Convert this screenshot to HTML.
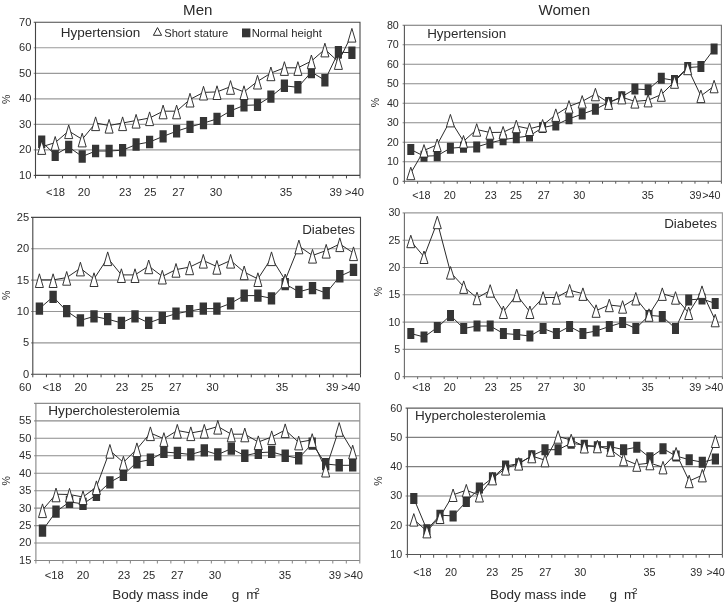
<!DOCTYPE html>
<html><head><meta charset="utf-8"><title>Figure</title>
<style>html,body{margin:0;padding:0;background:#fff}body{width:725px;height:602px;overflow:hidden;font-family:"Liberation Sans",sans-serif}svg{display:block;filter:grayscale(1)}</style>
</head><body>
<svg width="725" height="602" viewBox="0 0 725 602" font-family="'Liberation Sans', sans-serif" fill="#2b2b2b">
<rect width="725" height="602" fill="#fff"/>
<g id="p1">
<path d="M33.70 149.88H360.00M33.70 124.37H360.00M33.70 98.85H360.00M33.70 73.33H360.00M33.70 47.82H360.00" stroke="#9a9a9a" stroke-width="1.1" fill="none"/>
<path d="M33.70 22.30H360.00V175.40" fill="none" stroke="#484848" stroke-width="1.1"/>
<path d="M35.50 175.40v3.0M49.02 175.40v3.0M62.54 175.40v3.0M76.06 175.40v3.0M89.58 175.40v3.0M103.10 175.40v3.0M116.62 175.40v3.0M130.15 175.40v3.0M143.67 175.40v3.0M157.19 175.40v3.0M170.71 175.40v3.0M184.23 175.40v3.0M197.75 175.40v3.0M211.27 175.40v3.0M224.79 175.40v3.0M238.31 175.40v3.0M251.83 175.40v3.0M265.35 175.40v3.0M278.88 175.40v3.0M292.40 175.40v3.0M305.92 175.40v3.0M319.44 175.40v3.0M332.96 175.40v3.0M346.48 175.40v3.0M360.00 175.40v3.0M35.50 175.40h-1.8" stroke="#444" stroke-width="1" fill="none"/>
<path d="M35.50 22.30V175.40H360.00" fill="none" stroke="#444" stroke-width="1.1"/>
<text x="31.4" y="178.85" font-size="11.1" text-anchor="end">10</text>
<text x="31.4" y="153.33" font-size="11.1" text-anchor="end">20</text>
<text x="31.4" y="127.82" font-size="11.1" text-anchor="end">30</text>
<text x="31.4" y="102.30" font-size="11.1" text-anchor="end">40</text>
<text x="31.4" y="76.78" font-size="11.1" text-anchor="end">50</text>
<text x="31.4" y="51.27" font-size="11.1" text-anchor="end">60</text>
<text x="31.4" y="25.75" font-size="11.1" text-anchor="end">70</text>
<text x="55.6" y="195.5" font-size="11.2" text-anchor="middle">&lt;18</text>
<text x="84.0" y="195.5" font-size="11.2" text-anchor="middle">20</text>
<text x="125.2" y="195.5" font-size="11.2" text-anchor="middle">23</text>
<text x="150.2" y="195.5" font-size="11.2" text-anchor="middle">25</text>
<text x="178.5" y="195.5" font-size="11.2" text-anchor="middle">27</text>
<text x="216.1" y="195.5" font-size="11.2" text-anchor="middle">30</text>
<text x="285.9" y="195.5" font-size="11.2" text-anchor="middle">35</text>
<text x="335.7" y="195.5" font-size="11.2" text-anchor="middle">39</text>
<text x="354.5" y="195.5" font-size="11.2" text-anchor="middle">&gt;40</text>
<text transform="translate(6.6 99.4) rotate(-90)" font-size="10.6" text-anchor="middle" y="3.6">%</text>
<polyline points="41.7,141.7 55.2,154.8 68.7,147.0 82.2,156.5 95.6,151.0 109.1,151.0 122.6,150.2 136.1,144.5 149.6,142.0 163.1,136.4 176.6,131.2 190.0,126.9 203.5,123.1 217.0,118.9 230.5,110.9 244.0,105.4 257.5,104.9 270.9,96.6 284.4,85.8 297.9,87.3 311.4,72.0 324.9,80.3 338.4,52.2 351.9,52.7" fill="none" stroke="#2a2a2a" stroke-width="1"/>
<polyline points="41.7,146.8 55.2,142.6 68.7,131.0 82.2,139.3 95.6,123.0 109.1,125.5 122.6,123.0 136.1,120.5 149.6,118.0 163.1,111.2 176.6,111.2 190.0,99.4 203.5,92.4 217.0,91.9 230.5,86.7 244.0,91.9 257.5,81.4 270.9,73.1 284.4,67.8 297.9,67.8 311.4,61.1 324.9,49.3 338.4,61.8 351.9,34.5" fill="none" stroke="#2a2a2a" stroke-width="1"/>
<path d="M38.1 135.5h7.2v12.4h-7.2zM51.6 148.6h7.2v12.4h-7.2zM65.1 140.8h7.2v12.4h-7.2zM78.6 150.3h7.2v12.4h-7.2zM92.0 144.8h7.2v12.4h-7.2zM105.5 144.8h7.2v12.4h-7.2zM119.0 144.0h7.2v12.4h-7.2zM132.5 138.3h7.2v12.4h-7.2zM146.0 135.8h7.2v12.4h-7.2zM159.5 130.2h7.2v12.4h-7.2zM173.0 125.0h7.2v12.4h-7.2zM186.4 120.7h7.2v12.4h-7.2zM199.9 116.9h7.2v12.4h-7.2zM213.4 112.7h7.2v12.4h-7.2zM226.9 104.7h7.2v12.4h-7.2zM240.4 99.2h7.2v12.4h-7.2zM253.9 98.7h7.2v12.4h-7.2zM267.3 90.4h7.2v12.4h-7.2zM280.8 79.6h7.2v12.4h-7.2zM294.3 81.1h7.2v12.4h-7.2zM307.8 65.8h7.2v12.4h-7.2zM321.3 74.1h7.2v12.4h-7.2zM334.8 46.0h7.2v12.4h-7.2zM348.3 46.5h7.2v12.4h-7.2z" fill="#353535"/>
<path d="M41.7 140.7L45.7 154.4H37.7zM55.2 136.5L59.2 150.2H51.2zM68.7 124.9L72.7 138.6H64.7zM82.2 133.2L86.2 146.9H78.2zM95.6 116.9L99.6 130.6H91.6zM109.1 119.4L113.1 133.1H105.1zM122.6 116.9L126.6 130.6H118.6zM136.1 114.4L140.1 128.1H132.1zM149.6 111.9L153.6 125.6H145.6zM163.1 105.1L167.1 118.8H159.1zM176.6 105.1L180.6 118.8H172.6zM190.0 93.3L194.0 107.0H186.0zM203.5 86.3L207.5 100.0H199.5zM217.0 85.8L221.0 99.5H213.0zM230.5 80.6L234.5 94.3H226.5zM244.0 85.8L248.0 99.5H240.0zM257.5 75.3L261.5 89.0H253.5zM270.9 67.0L274.9 80.7H266.9zM284.4 61.7L288.4 75.4H280.4zM297.9 61.7L301.9 75.4H293.9zM311.4 55.0L315.4 68.7H307.4zM324.9 43.2L328.9 56.9H320.9zM338.4 55.7L342.4 69.4H334.4zM351.9 28.4L355.9 42.1H347.9z" fill="#fff" stroke="#2a2a2a" stroke-width="0.95" stroke-linejoin="miter"/>
</g>
<g id="p2">
<path d="M31.00 342.92H360.50M31.00 311.54H360.50M31.00 280.16H360.50M31.00 248.78H360.50" stroke="#969696" stroke-width="1.1" fill="none"/>
<path d="M31.00 217.40H360.50V374.30" fill="none" stroke="#484848" stroke-width="1.1"/>
<path d="M32.80 374.30v3.0M46.45 374.30v3.0M60.11 374.30v3.0M73.76 374.30v3.0M87.42 374.30v3.0M101.07 374.30v3.0M114.72 374.30v3.0M128.38 374.30v3.0M142.03 374.30v3.0M155.69 374.30v3.0M169.34 374.30v3.0M183.00 374.30v3.0M196.65 374.30v3.0M210.30 374.30v3.0M223.96 374.30v3.0M237.61 374.30v3.0M251.27 374.30v3.0M264.92 374.30v3.0M278.57 374.30v3.0M292.23 374.30v3.0M305.88 374.30v3.0M319.54 374.30v3.0M333.19 374.30v3.0M346.85 374.30v3.0M360.50 374.30v3.0M32.80 374.30h-1.8" stroke="#444" stroke-width="1" fill="none"/>
<path d="M32.80 217.40V374.30H360.50" fill="none" stroke="#444" stroke-width="1.1"/>
<text x="29.2" y="377.75" font-size="11.1" text-anchor="end">0</text>
<text x="29.2" y="346.37" font-size="11.1" text-anchor="end">5</text>
<text x="29.2" y="314.99" font-size="11.1" text-anchor="end">10</text>
<text x="29.2" y="283.61" font-size="11.1" text-anchor="end">15</text>
<text x="29.2" y="252.23" font-size="11.1" text-anchor="end">20</text>
<text x="29.2" y="220.85" font-size="11.1" text-anchor="end">25</text>
<text x="52.0" y="391.2" font-size="11.2" text-anchor="middle">&lt;18</text>
<text x="80.8" y="391.2" font-size="11.2" text-anchor="middle">20</text>
<text x="122.1" y="391.2" font-size="11.2" text-anchor="middle">23</text>
<text x="147.3" y="391.2" font-size="11.2" text-anchor="middle">25</text>
<text x="175.3" y="391.2" font-size="11.2" text-anchor="middle">27</text>
<text x="212.6" y="391.2" font-size="11.2" text-anchor="middle">30</text>
<text x="282.1" y="391.2" font-size="11.2" text-anchor="middle">35</text>
<text x="332.2" y="391.2" font-size="11.2" text-anchor="middle">39</text>
<text x="350.8" y="391.2" font-size="11.2" text-anchor="middle">&gt;40</text>
<text transform="translate(6.6 295.2) rotate(-90)" font-size="10.6" text-anchor="middle" y="3.6">%</text>
<polyline points="39.4,308.6 53.1,296.8 66.7,311.1 80.4,320.4 94.0,316.4 107.7,319.2 121.4,322.9 135.0,316.4 148.7,322.9 162.3,317.9 176.0,313.7 189.6,311.1 203.3,308.6 216.9,308.6 230.6,303.4 244.2,295.6 257.9,295.6 271.5,298.3 285.2,284.0 298.9,291.8 312.5,288.1 326.2,293.1 339.8,276.3 353.5,270.0" fill="none" stroke="#2a2a2a" stroke-width="1"/>
<polyline points="39.4,279.9 53.1,279.9 66.7,277.6 80.4,268.3 94.0,278.9 107.7,258.0 121.4,274.9 135.0,274.9 148.7,266.1 162.3,276.4 176.0,269.6 189.6,267.1 203.3,260.5 216.9,266.6 230.6,260.5 244.2,272.1 257.9,278.9 271.5,258.0 285.2,280.1 298.9,246.2 312.5,255.5 326.2,250.5 339.8,244.0 353.5,253.0" fill="none" stroke="#2a2a2a" stroke-width="1"/>
<path d="M35.7 302.5h7.4v12.3h-7.4zM49.4 290.7h7.4v12.3h-7.4zM63.0 305.0h7.4v12.3h-7.4zM76.7 314.3h7.4v12.3h-7.4zM90.3 310.3h7.4v12.3h-7.4zM104.0 313.0h7.4v12.3h-7.4zM117.7 316.8h7.4v12.3h-7.4zM131.3 310.3h7.4v12.3h-7.4zM145.0 316.8h7.4v12.3h-7.4zM158.6 311.8h7.4v12.3h-7.4zM172.3 307.5h7.4v12.3h-7.4zM185.9 305.0h7.4v12.3h-7.4zM199.6 302.5h7.4v12.3h-7.4zM213.2 302.5h7.4v12.3h-7.4zM226.9 297.2h7.4v12.3h-7.4zM240.5 289.4h7.4v12.3h-7.4zM254.2 289.4h7.4v12.3h-7.4zM267.8 292.2h7.4v12.3h-7.4zM281.5 277.9h7.4v12.3h-7.4zM295.2 285.7h7.4v12.3h-7.4zM308.8 281.9h7.4v12.3h-7.4zM322.5 286.9h7.4v12.3h-7.4zM336.1 270.1h7.4v12.3h-7.4zM349.8 263.8h7.4v12.3h-7.4z" fill="#353535"/>
<path d="M39.4 273.8L43.4 287.5H35.4zM53.1 273.8L57.1 287.5H49.1zM66.7 271.5L70.7 285.2H62.7zM80.4 262.2L84.4 275.9H76.4zM94.0 272.8L98.0 286.5H90.0zM107.7 251.9L111.7 265.6H103.7zM121.4 268.8L125.4 282.5H117.4zM135.0 268.8L139.0 282.5H131.0zM148.7 260.0L152.7 273.7H144.7zM162.3 270.3L166.3 284.0H158.3zM176.0 263.5L180.0 277.2H172.0zM189.6 261.0L193.6 274.7H185.6zM203.3 254.4L207.3 268.1H199.3zM216.9 260.5L220.9 274.2H212.9zM230.6 254.4L234.6 268.1H226.6zM244.2 266.0L248.2 279.7H240.2zM257.9 272.8L261.9 286.5H253.9zM271.5 251.9L275.5 265.6H267.5zM285.2 274.0L289.2 287.7H281.2zM298.9 240.1L302.9 253.8H294.9zM312.5 249.4L316.5 263.1H308.5zM326.2 244.4L330.2 258.1H322.2zM339.8 237.9L343.8 251.6H335.8zM353.5 246.9L357.5 260.6H349.5z" fill="#fff" stroke="#2a2a2a" stroke-width="0.95" stroke-linejoin="miter"/>
</g>
<g id="p3">
<path d="M34.10 543.04H359.80M34.10 525.59H359.80M34.10 508.13H359.80M34.10 490.68H359.80M34.10 473.22H359.80M34.10 455.77H359.80M34.10 438.31H359.80M34.10 420.86H359.80" stroke="#8c8c8c" stroke-width="1.1" fill="none"/>
<path d="M34.10 403.40H359.80V560.50" fill="none" stroke="#8c8c8c" stroke-width="1.1"/>
<path d="M35.90 560.50v3.0M49.40 560.50v3.0M62.89 560.50v3.0M76.39 560.50v3.0M89.88 560.50v3.0M103.38 560.50v3.0M116.88 560.50v3.0M130.37 560.50v3.0M143.87 560.50v3.0M157.36 560.50v3.0M170.86 560.50v3.0M184.35 560.50v3.0M197.85 560.50v3.0M211.35 560.50v3.0M224.84 560.50v3.0M238.34 560.50v3.0M251.83 560.50v3.0M265.33 560.50v3.0M278.83 560.50v3.0M292.32 560.50v3.0M305.82 560.50v3.0M319.31 560.50v3.0M332.81 560.50v3.0M346.30 560.50v3.0M359.80 560.50v3.0M35.90 560.50h-1.8" stroke="#858585" stroke-width="1" fill="none"/>
<path d="M35.90 403.40V560.50H359.80" fill="none" stroke="#858585" stroke-width="1.1"/>
<text x="31.4" y="563.95" font-size="11.1" text-anchor="end">15</text>
<text x="31.4" y="546.49" font-size="11.1" text-anchor="end">20</text>
<text x="31.4" y="529.04" font-size="11.1" text-anchor="end">25</text>
<text x="31.4" y="511.58" font-size="11.1" text-anchor="end">30</text>
<text x="31.4" y="494.13" font-size="11.1" text-anchor="end">35</text>
<text x="31.4" y="476.67" font-size="11.1" text-anchor="end">40</text>
<text x="31.4" y="459.22" font-size="11.1" text-anchor="end">45</text>
<text x="31.4" y="441.76" font-size="11.1" text-anchor="end">50</text>
<text x="31.4" y="424.31" font-size="11.1" text-anchor="end">55</text>
<text x="54.2" y="578.6" font-size="11.2" text-anchor="middle">&lt;18</text>
<text x="83.0" y="578.6" font-size="11.2" text-anchor="middle">20</text>
<text x="124.1" y="578.6" font-size="11.2" text-anchor="middle">23</text>
<text x="148.9" y="578.6" font-size="11.2" text-anchor="middle">25</text>
<text x="177.2" y="578.6" font-size="11.2" text-anchor="middle">27</text>
<text x="214.9" y="578.6" font-size="11.2" text-anchor="middle">30</text>
<text x="285.0" y="578.6" font-size="11.2" text-anchor="middle">35</text>
<text x="335.0" y="578.6" font-size="11.2" text-anchor="middle">39</text>
<text x="353.5" y="578.6" font-size="11.2" text-anchor="middle">&gt;40</text>
<text transform="translate(6.6 480.8) rotate(-90)" font-size="10.6" text-anchor="middle" y="3.6">%</text>
<polyline points="42.5,530.5 56.0,511.7 69.5,501.9 83.0,503.9 96.4,494.9 109.9,482.3 123.4,474.8 136.9,462.2 150.4,459.7 163.9,452.0 177.3,453.0 190.8,454.5 204.3,450.5 217.8,454.5 231.3,448.7 244.8,455.7 258.3,452.7 271.7,452.0 285.2,455.7 298.7,458.2 312.2,443.7 325.7,464.0 339.2,465.3 352.7,465.3" fill="none" stroke="#2a2a2a" stroke-width="1"/>
<polyline points="42.5,510.0 56.0,494.2 69.5,494.5 83.0,497.0 96.4,487.0 109.9,450.6 123.4,462.4 136.9,449.0 150.4,433.0 163.9,438.8 177.3,430.5 190.8,433.0 204.3,430.5 217.8,426.5 231.3,434.2 244.8,434.2 258.3,442.0 271.7,437.0 285.2,430.0 298.7,442.3 312.2,439.8 325.7,469.4 339.2,428.7 352.7,451.3" fill="none" stroke="#2a2a2a" stroke-width="1"/>
<path d="M38.8 524.4h7.4v12.3h-7.4zM52.3 505.5h7.4v12.3h-7.4zM65.8 495.8h7.4v12.3h-7.4zM79.3 497.8h7.4v12.3h-7.4zM92.7 488.7h7.4v12.3h-7.4zM106.2 476.2h7.4v12.3h-7.4zM119.7 468.6h7.4v12.3h-7.4zM133.2 456.1h7.4v12.3h-7.4zM146.7 453.6h7.4v12.3h-7.4zM160.2 445.8h7.4v12.3h-7.4zM173.7 446.8h7.4v12.3h-7.4zM187.1 448.3h7.4v12.3h-7.4zM200.6 444.3h7.4v12.3h-7.4zM214.1 448.3h7.4v12.3h-7.4zM227.6 442.5h7.4v12.3h-7.4zM241.1 449.6h7.4v12.3h-7.4zM254.6 446.6h7.4v12.3h-7.4zM268.0 445.8h7.4v12.3h-7.4zM281.5 449.6h7.4v12.3h-7.4zM295.0 452.1h7.4v12.3h-7.4zM308.5 437.5h7.4v12.3h-7.4zM322.0 457.9h7.4v12.3h-7.4zM335.5 459.1h7.4v12.3h-7.4zM349.0 459.1h7.4v12.3h-7.4z" fill="#353535"/>
<path d="M42.5 503.9L46.5 517.6H38.5zM56.0 488.1L60.0 501.8H52.0zM69.5 488.4L73.5 502.1H65.5zM83.0 490.9L87.0 504.6H79.0zM96.4 480.9L100.4 494.6H92.4zM109.9 444.5L113.9 458.2H105.9zM123.4 456.3L127.4 470.0H119.4zM136.9 442.9L140.9 456.6H132.9zM150.4 426.9L154.4 440.6H146.4zM163.9 432.7L167.9 446.4H159.9zM177.3 424.4L181.3 438.1H173.3zM190.8 426.9L194.8 440.6H186.8zM204.3 424.4L208.3 438.1H200.3zM217.8 420.4L221.8 434.1H213.8zM231.3 428.1L235.3 441.8H227.3zM244.8 428.1L248.8 441.8H240.8zM258.3 435.9L262.3 449.6H254.3zM271.7 430.9L275.7 444.6H267.7zM285.2 423.9L289.2 437.6H281.2zM298.7 436.2L302.7 449.9H294.7zM312.2 433.7L316.2 447.4H308.2zM325.7 463.3L329.7 477.0H321.7zM339.2 422.6L343.2 436.3H335.2zM352.7 445.2L356.7 458.9H348.7z" fill="#fff" stroke="#2a2a2a" stroke-width="0.95" stroke-linejoin="miter"/>
</g>
<g id="p4">
<path d="M402.60 161.79H721.40M402.60 142.28H721.40M402.60 122.76H721.40M402.60 103.25H721.40M402.60 83.74H721.40M402.60 64.22H721.40M402.60 44.71H721.40" stroke="#8c8c8c" stroke-width="1.1" fill="none"/>
<path d="M402.60 25.20H721.40V181.30" fill="none" stroke="#707070" stroke-width="1.1"/>
<path d="M404.40 181.30v2.4M417.61 181.30v2.4M430.82 181.30v2.4M444.02 181.30v2.4M457.23 181.30v2.4M470.44 181.30v2.4M483.65 181.30v2.4M496.86 181.30v2.4M510.07 181.30v2.4M523.27 181.30v2.4M536.48 181.30v2.4M549.69 181.30v2.4M562.90 181.30v2.4M576.11 181.30v2.4M589.32 181.30v2.4M602.52 181.30v2.4M615.73 181.30v2.4M628.94 181.30v2.4M642.15 181.30v2.4M655.36 181.30v2.4M668.57 181.30v2.4M681.77 181.30v2.4M694.98 181.30v2.4M708.19 181.30v2.4M721.40 181.30v2.4M404.40 181.30h-1.8" stroke="#555" stroke-width="1" fill="none"/>
<path d="M404.40 25.20V181.30H721.40" fill="none" stroke="#555" stroke-width="1.1"/>
<text x="398.8" y="184.85" font-size="10.7" text-anchor="end">0</text>
<text x="398.8" y="165.34" font-size="10.7" text-anchor="end">10</text>
<text x="398.8" y="145.83" font-size="10.7" text-anchor="end">20</text>
<text x="398.8" y="126.31" font-size="10.7" text-anchor="end">30</text>
<text x="398.8" y="106.80" font-size="10.7" text-anchor="end">40</text>
<text x="398.8" y="87.29" font-size="10.7" text-anchor="end">50</text>
<text x="398.8" y="67.77" font-size="10.7" text-anchor="end">60</text>
<text x="398.8" y="48.26" font-size="10.7" text-anchor="end">70</text>
<text x="398.8" y="28.75" font-size="10.7" text-anchor="end">80</text>
<text x="421.3" y="199.0" font-size="10.8" text-anchor="middle">&lt;18</text>
<text x="449.7" y="199.0" font-size="10.8" text-anchor="middle">20</text>
<text x="490.8" y="199.0" font-size="10.8" text-anchor="middle">23</text>
<text x="515.9" y="199.0" font-size="10.8" text-anchor="middle">25</text>
<text x="543.8" y="199.0" font-size="10.8" text-anchor="middle">27</text>
<text x="579.2" y="199.0" font-size="10.8" text-anchor="middle">30</text>
<text x="647.8" y="199.0" font-size="10.8" text-anchor="middle">35</text>
<text x="695.6" y="199.0" font-size="10.8" text-anchor="middle">39</text>
<text x="711.3" y="199.0" font-size="10.8" text-anchor="middle">&gt;40</text>
<text transform="translate(375.8 102.5) rotate(-90)" font-size="10.6" text-anchor="middle" y="3.6">%</text>
<polyline points="410.8,149.5 424.0,156.2 437.2,155.7 450.4,148.2 463.5,147.2 476.7,146.9 489.9,142.9 503.1,139.7 516.3,137.7 529.5,135.9 542.6,127.6 555.8,124.9 569.0,118.8 582.2,114.1 595.4,109.3 608.6,102.5 621.8,96.7 634.9,89.0 648.1,89.7 661.3,78.2 674.5,80.4 687.7,67.6 700.9,66.6 714.1,49.1" fill="none" stroke="#2a2a2a" stroke-width="1"/>
<polyline points="410.8,173.0 424.0,150.4 437.2,144.8 450.4,120.2 463.5,141.3 476.7,129.5 489.9,132.5 503.1,132.3 516.3,126.0 529.5,128.8 542.6,125.3 555.8,114.7 569.0,106.4 582.2,101.4 595.4,94.1 608.6,102.7 621.8,97.2 634.9,101.4 648.1,100.2 661.3,94.6 674.5,81.6 687.7,68.0 700.9,95.9 714.1,86.1" fill="none" stroke="#2a2a2a" stroke-width="1"/>
<path d="M407.3 144.0h7.0v11.0h-7.0zM420.5 150.7h7.0v11.0h-7.0zM433.7 150.2h7.0v11.0h-7.0zM446.9 142.7h7.0v11.0h-7.0zM460.0 141.7h7.0v11.0h-7.0zM473.2 141.4h7.0v11.0h-7.0zM486.4 137.4h7.0v11.0h-7.0zM499.6 134.2h7.0v11.0h-7.0zM512.8 132.2h7.0v11.0h-7.0zM526.0 130.4h7.0v11.0h-7.0zM539.1 122.1h7.0v11.0h-7.0zM552.3 119.4h7.0v11.0h-7.0zM565.5 113.3h7.0v11.0h-7.0zM578.7 108.6h7.0v11.0h-7.0zM591.9 103.8h7.0v11.0h-7.0zM605.1 97.0h7.0v11.0h-7.0zM618.3 91.2h7.0v11.0h-7.0zM631.4 83.5h7.0v11.0h-7.0zM644.6 84.2h7.0v11.0h-7.0zM657.8 72.7h7.0v11.0h-7.0zM671.0 74.9h7.0v11.0h-7.0zM684.2 62.1h7.0v11.0h-7.0zM697.4 61.1h7.0v11.0h-7.0zM710.6 43.6h7.0v11.0h-7.0z" fill="#353535"/>
<path d="M410.8 167.2L414.8 179.7H406.8zM424.0 144.6L428.0 157.1H420.0zM437.2 139.0L441.2 151.5H433.2zM450.4 114.4L454.4 126.9H446.4zM463.5 135.5L467.5 148.0H459.5zM476.7 123.7L480.7 136.2H472.7zM489.9 126.7L493.9 139.2H485.9zM503.1 126.5L507.1 139.0H499.1zM516.3 120.2L520.3 132.7H512.3zM529.5 123.0L533.5 135.5H525.5zM542.6 119.5L546.6 132.0H538.6zM555.8 108.9L559.8 121.4H551.8zM569.0 100.6L573.0 113.1H565.0zM582.2 95.6L586.2 108.1H578.2zM595.4 88.3L599.4 100.8H591.4zM608.6 96.9L612.6 109.4H604.6zM621.8 91.4L625.8 103.9H617.8zM634.9 95.6L638.9 108.1H630.9zM648.1 94.4L652.1 106.9H644.1zM661.3 88.8L665.3 101.3H657.3zM674.5 75.8L678.5 88.3H670.5zM687.7 62.2L691.7 74.7H683.7zM700.9 90.1L704.9 102.6H696.9zM714.1 80.3L718.1 92.8H710.1z" fill="#fff" stroke="#2a2a2a" stroke-width="0.95" stroke-linejoin="miter"/>
</g>
<g id="p5">
<path d="M402.60 349.40H722.40M402.60 322.10H722.40M402.60 294.80H722.40M402.60 267.50H722.40M402.60 240.20H722.40" stroke="#959595" stroke-width="1.1" fill="none"/>
<path d="M402.60 212.90H722.40V376.70" fill="none" stroke="#999" stroke-width="1.1"/>
<path d="M404.40 376.70v2.4M417.65 376.70v2.4M430.90 376.70v2.4M444.15 376.70v2.4M457.40 376.70v2.4M470.65 376.70v2.4M483.90 376.70v2.4M497.15 376.70v2.4M510.40 376.70v2.4M523.65 376.70v2.4M536.90 376.70v2.4M550.15 376.70v2.4M563.40 376.70v2.4M576.65 376.70v2.4M589.90 376.70v2.4M603.15 376.70v2.4M616.40 376.70v2.4M629.65 376.70v2.4M642.90 376.70v2.4M656.15 376.70v2.4M669.40 376.70v2.4M682.65 376.70v2.4M695.90 376.70v2.4M709.15 376.70v2.4M722.40 376.70v2.4M404.40 376.70h-1.8" stroke="#6a6a6a" stroke-width="1" fill="none"/>
<path d="M404.40 212.90V376.70H722.40" fill="none" stroke="#6a6a6a" stroke-width="1.1"/>
<text x="400.3" y="380.25" font-size="10.7" text-anchor="end">0</text>
<text x="400.3" y="352.95" font-size="10.7" text-anchor="end">5</text>
<text x="400.3" y="325.65" font-size="10.7" text-anchor="end">10</text>
<text x="400.3" y="298.35" font-size="10.7" text-anchor="end">15</text>
<text x="400.3" y="271.05" font-size="10.7" text-anchor="end">20</text>
<text x="400.3" y="243.75" font-size="10.7" text-anchor="end">25</text>
<text x="400.3" y="216.45" font-size="10.7" text-anchor="end">30</text>
<text x="421.3" y="391.1" font-size="10.8" text-anchor="middle">&lt;18</text>
<text x="449.7" y="391.1" font-size="10.8" text-anchor="middle">20</text>
<text x="490.8" y="391.1" font-size="10.8" text-anchor="middle">23</text>
<text x="515.9" y="391.1" font-size="10.8" text-anchor="middle">25</text>
<text x="543.8" y="391.1" font-size="10.8" text-anchor="middle">27</text>
<text x="579.2" y="391.1" font-size="10.8" text-anchor="middle">30</text>
<text x="647.8" y="391.1" font-size="10.8" text-anchor="middle">35</text>
<text x="695.3" y="391.1" font-size="10.8" text-anchor="middle">39</text>
<text x="714.2" y="391.1" font-size="10.8" text-anchor="middle">&gt;40</text>
<text transform="translate(378.5 291.6) rotate(-90)" font-size="10.6" text-anchor="middle" y="3.6">%</text>
<polyline points="410.8,333.5 424.0,337.0 437.3,327.5 450.5,315.4 463.7,328.5 477.0,326.0 490.2,326.0 503.4,333.5 516.7,334.5 529.9,336.0 543.1,328.5 556.4,333.5 569.6,326.5 582.9,333.5 596.1,331.0 609.3,326.5 622.6,322.5 635.8,328.5 649.0,315.4 662.3,316.4 675.5,328.5 688.7,299.9 702.0,298.9 715.2,303.4" fill="none" stroke="#2a2a2a" stroke-width="1"/>
<polyline points="410.8,241.0 424.0,256.8 437.3,222.0 450.5,272.4 463.7,286.7 477.0,298.0 490.2,290.5 503.4,311.8 516.7,295.0 529.9,311.8 543.1,297.5 556.4,297.5 569.6,290.2 582.9,293.7 596.1,310.6 609.3,305.0 622.6,306.5 635.8,298.3 649.0,314.6 662.3,293.7 675.5,297.5 688.7,312.8 702.0,291.7 715.2,320.1" fill="none" stroke="#2a2a2a" stroke-width="1"/>
<path d="M407.3 328.0h7.0v11.0h-7.0zM420.5 331.5h7.0v11.0h-7.0zM433.8 322.0h7.0v11.0h-7.0zM447.0 309.9h7.0v11.0h-7.0zM460.2 323.0h7.0v11.0h-7.0zM473.5 320.5h7.0v11.0h-7.0zM486.7 320.5h7.0v11.0h-7.0zM499.9 328.0h7.0v11.0h-7.0zM513.2 329.0h7.0v11.0h-7.0zM526.4 330.5h7.0v11.0h-7.0zM539.6 323.0h7.0v11.0h-7.0zM552.9 328.0h7.0v11.0h-7.0zM566.1 321.0h7.0v11.0h-7.0zM579.4 328.0h7.0v11.0h-7.0zM592.6 325.5h7.0v11.0h-7.0zM605.8 321.0h7.0v11.0h-7.0zM619.1 317.0h7.0v11.0h-7.0zM632.3 323.0h7.0v11.0h-7.0zM645.5 309.9h7.0v11.0h-7.0zM658.8 310.9h7.0v11.0h-7.0zM672.0 323.0h7.0v11.0h-7.0zM685.2 294.4h7.0v11.0h-7.0zM698.5 293.4h7.0v11.0h-7.0zM711.7 297.9h7.0v11.0h-7.0z" fill="#353535"/>
<path d="M410.8 235.2L414.8 247.7H406.8zM424.0 251.0L428.0 263.5H420.0zM437.3 216.2L441.3 228.7H433.3zM450.5 266.6L454.5 279.1H446.5zM463.7 280.9L467.7 293.4H459.7zM477.0 292.2L481.0 304.7H473.0zM490.2 284.7L494.2 297.2H486.2zM503.4 306.0L507.4 318.5H499.4zM516.7 289.2L520.7 301.7H512.7zM529.9 306.0L533.9 318.5H525.9zM543.1 291.7L547.1 304.2H539.1zM556.4 291.7L560.4 304.2H552.4zM569.6 284.4L573.6 296.9H565.6zM582.9 287.9L586.9 300.4H578.9zM596.1 304.8L600.1 317.3H592.1zM609.3 299.2L613.3 311.7H605.3zM622.6 300.7L626.6 313.2H618.6zM635.8 292.5L639.8 305.0H631.8zM649.0 308.8L653.0 321.3H645.0zM662.3 287.9L666.3 300.4H658.3zM675.5 291.7L679.5 304.2H671.5zM688.7 307.0L692.7 319.5H684.7zM702.0 285.9L706.0 298.4H698.0zM715.2 314.3L719.2 326.8H711.2z" fill="#fff" stroke="#2a2a2a" stroke-width="0.95" stroke-linejoin="miter"/>
</g>
<g id="p6">
<path d="M405.60 525.22H722.40M405.60 495.94H722.40M405.60 466.66H722.40M405.60 437.38H722.40" stroke="#808080" stroke-width="1.1" fill="none"/>
<path d="M405.60 408.10H722.40V554.50" fill="none" stroke="#5e5e5e" stroke-width="1.1"/>
<path d="M407.40 554.50v3.2M420.52 554.50v3.2M433.65 554.50v3.2M446.77 554.50v3.2M459.90 554.50v3.2M473.02 554.50v3.2M486.15 554.50v3.2M499.27 554.50v3.2M512.40 554.50v3.2M525.52 554.50v3.2M538.65 554.50v3.2M551.77 554.50v3.2M564.90 554.50v3.2M578.02 554.50v3.2M591.15 554.50v3.2M604.27 554.50v3.2M617.40 554.50v3.2M630.52 554.50v3.2M643.65 554.50v3.2M656.77 554.50v3.2M669.90 554.50v3.2M683.02 554.50v3.2M696.15 554.50v3.2M709.27 554.50v3.2M722.40 554.50v3.2M407.40 554.50h-1.8" stroke="#555" stroke-width="1" fill="none"/>
<path d="M407.40 408.10V554.50H722.40" fill="none" stroke="#555" stroke-width="1.1"/>
<text x="402.1" y="558.05" font-size="10.7" text-anchor="end">10</text>
<text x="402.1" y="528.77" font-size="10.7" text-anchor="end">20</text>
<text x="402.1" y="499.49" font-size="10.7" text-anchor="end">30</text>
<text x="402.1" y="470.21" font-size="10.7" text-anchor="end">40</text>
<text x="402.1" y="440.93" font-size="10.7" text-anchor="end">50</text>
<text x="402.1" y="411.65" font-size="10.7" text-anchor="end">60</text>
<text x="422.4" y="576.1" font-size="10.8" text-anchor="middle">&lt;18</text>
<text x="451.1" y="576.1" font-size="10.8" text-anchor="middle">20</text>
<text x="492.3" y="576.1" font-size="10.8" text-anchor="middle">23</text>
<text x="517.3" y="576.1" font-size="10.8" text-anchor="middle">25</text>
<text x="545.3" y="576.1" font-size="10.8" text-anchor="middle">27</text>
<text x="580.2" y="576.1" font-size="10.8" text-anchor="middle">30</text>
<text x="649.4" y="576.1" font-size="10.8" text-anchor="middle">35</text>
<text x="696.3" y="576.1" font-size="10.8" text-anchor="middle">39</text>
<text x="715.6" y="576.1" font-size="10.8" text-anchor="middle">&gt;40</text>
<text transform="translate(378.5 481.1) rotate(-90)" font-size="10.6" text-anchor="middle" y="3.6">%</text>
<polyline points="413.8,498.4 426.9,529.7 440.0,515.2 453.1,515.9 466.3,501.6 479.4,488.1 492.5,477.8 505.6,466.0 518.7,463.7 531.8,455.7 545.0,449.7 558.1,449.7 571.2,443.2 584.3,445.2 597.4,446.7 610.5,446.7 623.6,449.7 636.8,447.2 649.9,457.7 663.0,448.7 676.1,456.0 689.2,459.7 702.3,462.2 715.4,459.0" fill="none" stroke="#2a2a2a" stroke-width="1"/>
<polyline points="413.8,519.4 426.9,531.2 440.0,516.8 453.1,494.8 466.3,490.2 479.4,495.3 492.5,478.2 505.6,468.4 518.7,463.4 531.8,456.1 545.0,460.1 558.1,436.5 571.2,440.0 584.3,446.3 597.4,446.1 610.5,449.6 623.6,459.1 636.8,464.6 649.9,463.1 663.0,467.2 676.1,453.3 689.2,481.0 702.3,475.2 715.4,440.8" fill="none" stroke="#2a2a2a" stroke-width="1"/>
<path d="M410.2 492.9h7.2v11.0h-7.2zM423.3 524.2h7.2v11.0h-7.2zM436.4 509.7h7.2v11.0h-7.2zM449.5 510.4h7.2v11.0h-7.2zM462.7 496.1h7.2v11.0h-7.2zM475.8 482.6h7.2v11.0h-7.2zM488.9 472.3h7.2v11.0h-7.2zM502.0 460.5h7.2v11.0h-7.2zM515.1 458.2h7.2v11.0h-7.2zM528.2 450.2h7.2v11.0h-7.2zM541.4 444.2h7.2v11.0h-7.2zM554.5 444.2h7.2v11.0h-7.2zM567.6 437.7h7.2v11.0h-7.2zM580.7 439.7h7.2v11.0h-7.2zM593.8 441.2h7.2v11.0h-7.2zM606.9 441.2h7.2v11.0h-7.2zM620.0 444.2h7.2v11.0h-7.2zM633.2 441.7h7.2v11.0h-7.2zM646.3 452.2h7.2v11.0h-7.2zM659.4 443.2h7.2v11.0h-7.2zM672.5 450.5h7.2v11.0h-7.2zM685.6 454.2h7.2v11.0h-7.2zM698.7 456.7h7.2v11.0h-7.2zM711.8 453.5h7.2v11.0h-7.2z" fill="#353535"/>
<path d="M413.8 513.6L417.8 526.1H409.8zM426.9 525.4L430.9 537.9H422.9zM440.0 511.0L444.0 523.5H436.0zM453.1 489.0L457.1 501.5H449.1zM466.3 484.4L470.3 496.9H462.3zM479.4 489.5L483.4 502.0H475.4zM492.5 472.4L496.5 484.9H488.5zM505.6 462.6L509.6 475.1H501.6zM518.7 457.6L522.7 470.1H514.7zM531.8 450.3L535.8 462.8H527.8zM545.0 454.3L549.0 466.8H541.0zM558.1 430.7L562.1 443.2H554.1zM571.2 434.2L575.2 446.7H567.2zM584.3 440.5L588.3 453.0H580.3zM597.4 440.3L601.4 452.8H593.4zM610.5 443.8L614.5 456.3H606.5zM623.6 453.3L627.6 465.8H619.6zM636.8 458.8L640.8 471.3H632.8zM649.9 457.3L653.9 469.8H645.9zM663.0 461.4L667.0 473.9H659.0zM676.1 447.5L680.1 460.0H672.1zM689.2 475.2L693.2 487.7H685.2zM702.3 469.4L706.3 481.9H698.3zM715.4 435.0L719.4 447.5H711.4z" fill="#fff" stroke="#2a2a2a" stroke-width="0.95" stroke-linejoin="miter"/>
</g>
<text x="197.8" y="14.9" font-size="15.1" text-anchor="middle">Men</text>
<text x="564.3" y="14.9" font-size="15.1" text-anchor="middle">Women</text>
<text x="60.8" y="37.0" font-size="13.5">Hypertension</text>
<text x="427.2" y="38.1" font-size="13.4">Hypertension</text>
<text x="302.2" y="233.8" font-size="13.4">Diabetes</text>
<text x="664.2" y="228.1" font-size="13.4">Diabetes</text>
<text x="48.3" y="415.4" font-size="13.6">Hypercholesterolemia</text>
<text x="415.1" y="420.1" font-size="13.5">Hypercholesterolemia</text>
<path d="M157.5 27.6L161.6 35.3H153.4z" fill="#fff" stroke="#2a2a2a" stroke-width="1"/>
<text x="164.2" y="36.8" font-size="11.2">Short stature</text>
<rect x="242" y="28.5" width="8.4" height="8.8" fill="#353535"/>
<text x="251.7" y="36.8" font-size="11.3">Normal height</text>
<text x="31.4" y="390.9" font-size="11.1" text-anchor="end">60</text>
<text x="112.3" y="598.7" font-size="13.5">Body mass inde</text>
<text x="231.7" y="598.8" font-size="13.5">g</text>
<text x="246.3" y="598.8" font-size="13.5">m</text>
<text x="254.5" y="593.8" font-size="9.5">2</text>
<text x="490.1" y="598.7" font-size="13.5">Body mass inde</text>
<text x="609.5" y="598.8" font-size="13.5">g</text>
<text x="624.1" y="598.8" font-size="13.5">m</text>
<text x="632.3" y="593.8" font-size="9.5">2</text>
</svg>
</body></html>
